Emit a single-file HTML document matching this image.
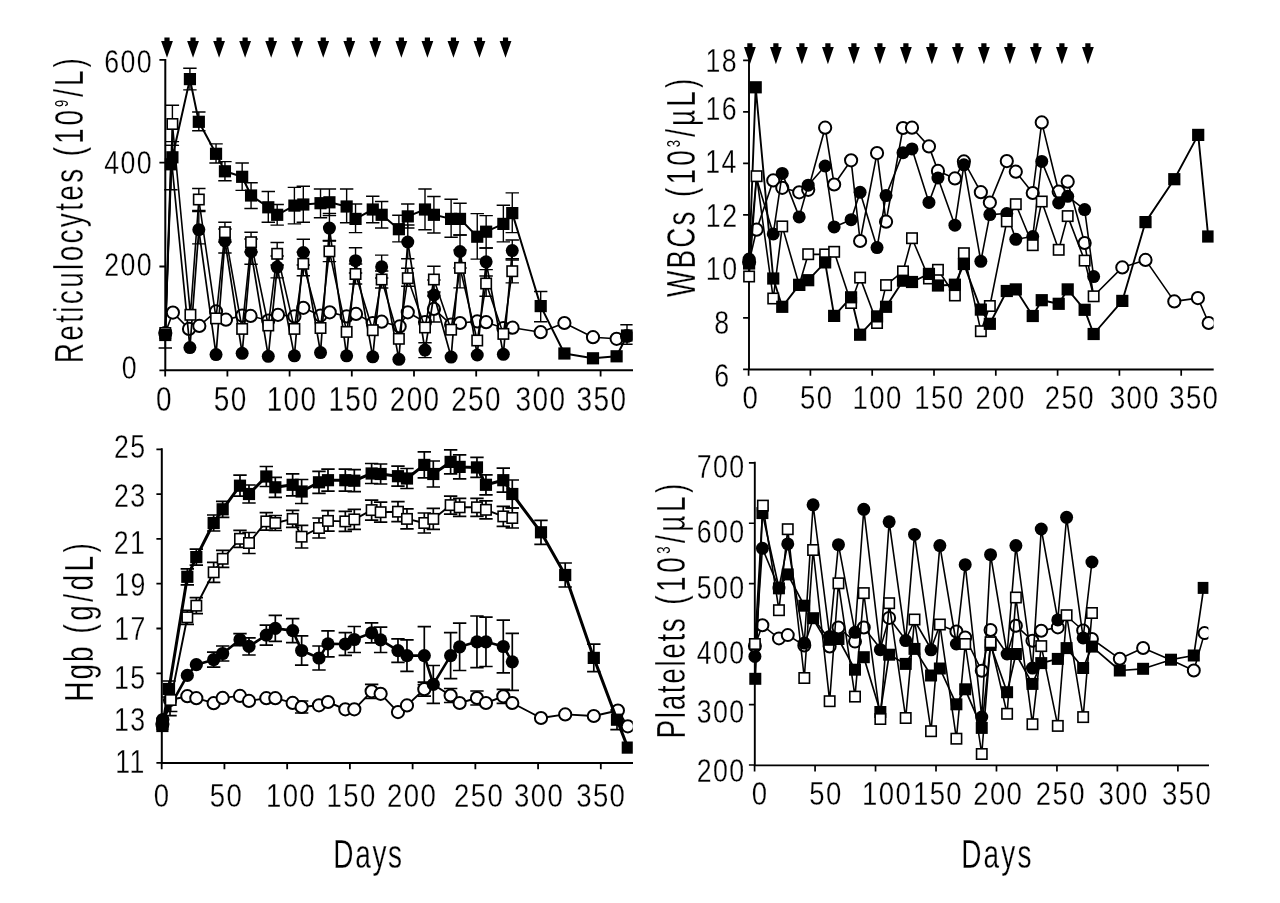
<!DOCTYPE html>
<html lang="en"><head><meta charset="utf-8"><title>Figure</title>
<style>html,body{margin:0;padding:0;background:#fff}svg{display:block}text{font-family:'Liberation Sans', Arial, sans-serif;fill:#000;stroke:#fff;stroke-width:.3px}</style></head><body>
<svg width="1280" height="903" viewBox="0 0 1280 903">
<rect width="1280" height="903" fill="#fff"/>
<defs><clipPath id="c1"><rect x="0" y="0" width="632.6" height="452"/></clipPath><clipPath id="c2"><rect x="640" y="0" width="573.6" height="452"/></clipPath><clipPath id="c3"><rect x="0" y="430" width="632.8" height="473"/></clipPath><clipPath id="c4"><rect x="640" y="430" width="568.4" height="473"/></clipPath></defs>
<g id="panel1">
<path d="M165.3 58.9L165.3 370.3L633 370.3" fill="none" stroke="#000" stroke-width="2" stroke-linejoin="miter"/>
<path d="M159.4 59.9H165.3M159.4 162.6H165.3M159.4 266.5H165.3M159.4 370.3H165.3M165.2 370.3V376.5M227.4 370.3V376.5M289.6 370.3V376.5M351.8 370.3V376.5M414 370.3V376.5M476.2 370.3V376.5M538.4 370.3V376.5M600.6 370.3V376.5" fill="none" stroke="#000" stroke-width="1.8"/>
<path d="M164.4 37.5h5.2v3.6h3.3L167 57.8L161.1 41.1h3.3zM190.44 37.5h5.2v3.6h3.3L193.04 57.8L187.14 41.1h3.3zM216.48 37.5h5.2v3.6h3.3L219.08 57.8L213.18 41.1h3.3zM242.52 37.5h5.2v3.6h3.3L245.12 57.8L239.22 41.1h3.3zM268.56 37.5h5.2v3.6h3.3L271.16 57.8L265.26 41.1h3.3zM294.6 37.5h5.2v3.6h3.3L297.2 57.8L291.3 41.1h3.3zM320.64 37.5h5.2v3.6h3.3L323.24 57.8L317.34 41.1h3.3zM346.68 37.5h5.2v3.6h3.3L349.28 57.8L343.38 41.1h3.3zM372.72 37.5h5.2v3.6h3.3L375.32 57.8L369.42 41.1h3.3zM398.76 37.5h5.2v3.6h3.3L401.36 57.8L395.46 41.1h3.3zM424.8 37.5h5.2v3.6h3.3L427.4 57.8L421.5 41.1h3.3zM450.84 37.5h5.2v3.6h3.3L453.44 57.8L447.54 41.1h3.3zM476.88 37.5h5.2v3.6h3.3L479.48 57.8L473.58 41.1h3.3zM502.92 37.5h5.2v3.6h3.3L505.52 57.8L499.62 41.1h3.3z" fill="#000"/>
<g clip-path="url(#c1)">
<path d="M433.9 308.9V296M427.2 296H440.6M433.9 308.9V322M427.2 322H440.6" fill="none" stroke="#000" stroke-width="1.4"/>
<path d="M172.4 124V105.3M165.7 105.3H179.1M172.4 124V145.4M165.7 145.4H179.1M198.82 199.5V188.5M192.12 188.5H205.52M198.82 199.5V210.5M192.12 210.5H205.52M224.94 232.2V222.3M218.24 222.3H231.64M224.94 232.2V242M218.24 242H231.64M251.06 242.2V232.2M244.36 232.2H257.76M251.06 242.2V252M244.36 252H257.76M277.18 253.8V242.5M270.48 242.5H283.88M277.18 253.8V265M270.48 265H283.88M303.3 263.8V252M296.6 252H310M303.3 263.8V275.7M296.6 275.7H310M329.42 251.3V241M322.72 241H336.12M329.42 251.3V261.6M322.72 261.6H336.12M355.54 274V264M348.84 264H362.24M355.54 274V284M348.84 284H362.24M381.66 279.5V271M374.96 271H388.36M381.66 279.5V288M374.96 288H388.36M407.78 278.2V268.3M401.08 268.3H414.48M407.78 278.2V286.2M401.08 286.2H414.48M433.9 279.5V266.3M427.2 266.3H440.6M433.9 279.5V292M427.2 292H440.6M460.02 267.9V250M453.32 250H466.72M460.02 267.9V287.9M453.32 287.9H466.72M486.14 283.5V269.6M479.44 269.6H492.84M486.14 283.5V296.2M479.44 296.2H492.84M512.26 271.2V260M505.56 260H518.96M512.26 271.2V282.9M505.56 282.9H518.96" fill="none" stroke="#000" stroke-width="1.4"/>
<path d="M171.6 161V145.4M164.9 145.4H178.3M198.82 229.7V211.5M192.12 211.5H205.52M198.82 229.7V243.9M192.12 243.9H205.52M224.94 241V229M218.24 229H231.64M224.94 241V253M218.24 253H231.64M251.06 251.7V239M244.36 239H257.76M251.06 251.7V264.3M244.36 264.3H257.76M277.18 267.1V256M270.48 256H283.88M277.18 267.1V277.9M270.48 277.9H283.88M303.3 252.5V239.2M296.6 239.2H310M303.3 252.5V265M296.6 265H310M329.42 228.1V213.5M322.72 213.5H336.12M329.42 228.1V240.5M322.72 240.5H336.12M355.54 260.7V247.7M348.84 247.7H362.24M355.54 260.7V273M348.84 273H362.24M381.66 266.8V255.1M374.96 255.1H388.36M381.66 266.8V278M374.96 278H388.36M407.78 242V225M401.08 225H414.48M407.78 242V258.8M401.08 258.8H414.48M425 350.1V342.7M418.3 342.7H431.7M425 350.1V357.6M418.3 357.6H431.7M433.9 295V280M427.2 280H440.6M433.9 295V310M427.2 310H440.6M460.02 251.5V235M453.32 235H466.72M460.02 251.5V268M453.32 268H466.72M486.14 261.8V248M479.44 248H492.84M486.14 261.8V276M479.44 276H492.84M512.26 250.6V240M505.56 240H518.96M512.26 250.6V258.8M505.56 258.8H518.96" fill="none" stroke="#000" stroke-width="1.4"/>
<path d="M165.3 335V348M158.6 348H172M170.9 164.3V189.8M164.2 189.8H177.6M172.4 157.3V141.6M165.7 141.6H179.1M189.92 79.1V68.3M183.22 68.3H196.62M189.92 79.1V89.9M183.22 89.9H196.62M198.82 121.8V112M192.12 112H205.52M198.82 121.8V130.8M192.12 130.8H205.52M216.04 153.8V143.9M209.34 143.9H222.74M216.04 153.8V163M209.34 163H222.74M224.94 171.3V161.6M218.24 161.6H231.64M224.94 171.3V180.7M218.24 180.7H231.64M242.16 176.8V163M235.46 163H248.86M242.16 176.8V190.4M235.46 190.4H248.86M251.06 195.5V182.7M244.36 182.7H257.76M251.06 195.5V208.5M244.36 208.5H257.76M268.28 207.3V191.5M261.58 191.5H274.98M268.28 207.3V222.3M261.58 222.3H274.98M277.18 214.8V204.5M270.48 204.5H283.88M277.18 214.8V225.1M270.48 225.1H283.88M294.4 205.6V187.4M287.7 187.4H301.1M294.4 205.6V223.9M287.7 223.9H301.1M303.3 204.5V186.2M296.6 186.2H310M303.3 204.5V222.3M296.6 222.3H310M320.52 203.2V189M313.82 189H327.22M320.52 203.2V217.8M313.82 217.8H327.22M329.42 202.3V189M322.72 189H336.12M329.42 202.3V215.6M322.72 215.6H336.12M346.64 206.5V189M339.94 189H353.34M346.64 206.5V222.8M339.94 222.8H353.34M355.54 218.9V204M348.84 204H362.24M355.54 218.9V232.6M348.84 232.6H362.24M372.76 209.5V196.2M366.06 196.2H379.46M372.76 209.5V222.8M366.06 222.8H379.46M381.66 214.8V201.5M374.96 201.5H388.36M381.66 214.8V228M374.96 228H388.36M398.88 229.2V215.3M392.18 215.3H405.58M398.88 229.2V241.9M392.18 241.9H405.58M407.78 216.4V204M401.08 204H414.48M407.78 216.4V228M401.08 228H414.48M425 209.5V189M418.3 189H431.7M425 209.5V229.7M418.3 229.7H431.7M433.9 214.8V196.5M427.2 196.5H440.6M433.9 214.8V233M427.2 233H440.6M451.12 218.9V199.3M444.42 199.3H457.82M451.12 218.9V237.2M444.42 237.2H457.82M460.02 218.9V203.2M453.32 203.2H466.72M460.02 218.9V235M453.32 235H466.72M477.24 236.7V213.6M470.54 213.6H483.94M477.24 236.7V259.1M470.54 259.1H483.94M486.14 231.7V215.6M479.44 215.6H492.84M486.14 231.7V248M479.44 248H492.84M503.36 223.9V205.3M496.66 205.3H510.06M503.36 223.9V241.9M496.66 241.9H510.06M512.26 213.1V192.9M505.56 192.9H518.96M512.26 213.1V232.6M505.56 232.6H518.96M540.7 306.1V291.5M534 291.5H547.4M540.7 306.1V321.7M534 321.7H547.4M627 335.5V324.7M620.3 324.7H633.7M627 335.5V344.3M620.3 344.3H633.7" fill="none" stroke="#000" stroke-width="1.4"/>
<path d="M165.3 333L172.9 312.6L189.02 328.9L199.32 325.9L216.04 311.4L225.94 319.7L242.16 315.6L250.56 315.9L268.28 320.5L277.98 314.8L294.4 316.4L303.3 307.8L320.52 315.6L329.72 312.3L346.64 316.4L356.04 313.9L372.76 323L381.66 321.7L399.68 326.4L407.78 312.3L425 322L433.9 308.9L451.12 324.7L460.02 323L477.24 321.4L486.14 322.2L503.36 328L512.56 327.7L540.7 332.2L564.4 323L593 337.2L616.6 338.8L627 336" fill="none" stroke="#000" stroke-width="1.6" stroke-linejoin="round"/>
<g fill="#fff" stroke="#000" stroke-width="2"><circle cx="165.3" cy="333" r="6.1"/><circle cx="172.9" cy="312.6" r="6.1"/><circle cx="189.02" cy="328.9" r="6.1"/><circle cx="199.32" cy="325.9" r="6.1"/><circle cx="216.04" cy="311.4" r="6.1"/><circle cx="225.94" cy="319.7" r="6.1"/><circle cx="242.16" cy="315.6" r="6.1"/><circle cx="250.56" cy="315.9" r="6.1"/><circle cx="268.28" cy="320.5" r="6.1"/><circle cx="277.98" cy="314.8" r="6.1"/><circle cx="294.4" cy="316.4" r="6.1"/><circle cx="303.3" cy="307.8" r="6.1"/><circle cx="320.52" cy="315.6" r="6.1"/><circle cx="329.72" cy="312.3" r="6.1"/><circle cx="346.64" cy="316.4" r="6.1"/><circle cx="356.04" cy="313.9" r="6.1"/><circle cx="372.76" cy="323" r="6.1"/><circle cx="381.66" cy="321.7" r="6.1"/><circle cx="399.68" cy="326.4" r="6.1"/><circle cx="407.78" cy="312.3" r="6.1"/><circle cx="425" cy="322" r="6.1"/><circle cx="433.9" cy="308.9" r="6.1"/><circle cx="451.12" cy="324.7" r="6.1"/><circle cx="460.02" cy="323" r="6.1"/><circle cx="477.24" cy="321.4" r="6.1"/><circle cx="486.14" cy="322.2" r="6.1"/><circle cx="503.36" cy="328" r="6.1"/><circle cx="512.56" cy="327.7" r="6.1"/><circle cx="540.7" cy="332.2" r="6.1"/><circle cx="564.4" cy="323" r="6.1"/><circle cx="593" cy="337.2" r="6.1"/><circle cx="616.6" cy="338.8" r="6.1"/><circle cx="627" cy="336" r="6.1"/></g>
<path d="M165.3 333L172.4 124L190.42 314.8L198.82 199.5L216.04 318.4L224.94 232.2L242.16 328.9L251.06 242.2L268.28 325.5L277.18 253.8L294.4 328.9L303.3 263.8L320.52 328L329.42 251.3L346.64 331.9L355.54 274L372.76 330.2L381.66 279.5L398.88 338.8L407.78 278.2L425 327.5L433.9 279.5L451.12 329.7L460.02 267.9L477.24 340.5L486.14 283.5L503.36 333.9L512.26 271.2" fill="none" stroke="#000" stroke-width="1.6" stroke-linejoin="round"/>
<path d="M165.3 333L171.6 161L189.92 347.6L198.82 229.7L216.04 354.6L224.94 241L242.16 353.3L251.06 251.7L268.28 356.3L277.18 267.1L294.4 355.8L303.3 252.5L320.52 352.6L329.42 228.1L346.64 355.8L355.54 260.7L372.76 356.8L381.66 266.8L398.88 359.3L407.78 242L425 350.1L433.9 295L451.12 357.1L460.02 251.5L477.24 355L486.14 261.8L503.36 354.3L512.26 250.6" fill="none" stroke="#000" stroke-width="1.7" stroke-linejoin="round"/>
<path d="M165.3 335L170.9 164.3L172.4 157.3L189.92 79.1L198.82 121.8L216.04 153.8L224.94 171.3L242.16 176.8L251.06 195.5L268.28 207.3L277.18 214.8L294.4 205.6L303.3 204.5L320.52 203.2L329.42 202.3L346.64 206.5L355.54 218.9L372.76 209.5L381.66 214.8L398.88 229.2L407.78 216.4L425 209.5L433.9 214.8L451.12 218.9L460.02 218.9L477.24 236.7L486.14 231.7L503.36 223.9L512.26 213.1L540.7 306.1L564.4 353.5L593 358.3L616.6 356.3L627 335.5" fill="none" stroke="#000" stroke-width="2" stroke-linejoin="round"/>
<g fill="#000" stroke="none" stroke-width="0"><circle cx="165.3" cy="333" r="6.5"/><circle cx="189.92" cy="347.6" r="6.5"/><circle cx="198.82" cy="229.7" r="6.5"/><circle cx="216.04" cy="354.6" r="6.5"/><circle cx="224.94" cy="241" r="6.5"/><circle cx="242.16" cy="353.3" r="6.5"/><circle cx="251.06" cy="251.7" r="6.5"/><circle cx="268.28" cy="356.3" r="6.5"/><circle cx="277.18" cy="267.1" r="6.5"/><circle cx="294.4" cy="355.8" r="6.5"/><circle cx="303.3" cy="252.5" r="6.5"/><circle cx="320.52" cy="352.6" r="6.5"/><circle cx="329.42" cy="228.1" r="6.5"/><circle cx="346.64" cy="355.8" r="6.5"/><circle cx="355.54" cy="260.7" r="6.5"/><circle cx="372.76" cy="356.8" r="6.5"/><circle cx="381.66" cy="266.8" r="6.5"/><circle cx="398.88" cy="359.3" r="6.5"/><circle cx="407.78" cy="242" r="6.5"/><circle cx="425" cy="350.1" r="6.5"/><circle cx="433.9" cy="295" r="6.5"/><circle cx="451.12" cy="357.1" r="6.5"/><circle cx="460.02" cy="251.5" r="6.5"/><circle cx="477.24" cy="355" r="6.5"/><circle cx="486.14" cy="261.8" r="6.5"/><circle cx="503.36" cy="354.3" r="6.5"/><circle cx="512.26" cy="250.6" r="6.5"/></g>
<g fill="#fff" stroke="#000" stroke-width="1.6"><rect x="160.1" y="327.8" width="10.4" height="10.4"/><rect x="167.2" y="118.8" width="10.4" height="10.4"/><rect x="185.22" y="309.6" width="10.4" height="10.4"/><rect x="193.62" y="194.3" width="10.4" height="10.4"/><rect x="210.84" y="313.2" width="10.4" height="10.4"/><rect x="219.74" y="227" width="10.4" height="10.4"/><rect x="236.96" y="323.7" width="10.4" height="10.4"/><rect x="245.86" y="237" width="10.4" height="10.4"/><rect x="263.08" y="320.3" width="10.4" height="10.4"/><rect x="271.98" y="248.6" width="10.4" height="10.4"/><rect x="289.2" y="323.7" width="10.4" height="10.4"/><rect x="298.1" y="258.6" width="10.4" height="10.4"/><rect x="315.32" y="322.8" width="10.4" height="10.4"/><rect x="324.22" y="246.1" width="10.4" height="10.4"/><rect x="341.44" y="326.7" width="10.4" height="10.4"/><rect x="350.34" y="268.8" width="10.4" height="10.4"/><rect x="367.56" y="325" width="10.4" height="10.4"/><rect x="376.46" y="274.3" width="10.4" height="10.4"/><rect x="393.68" y="333.6" width="10.4" height="10.4"/><rect x="402.58" y="273" width="10.4" height="10.4"/><rect x="419.8" y="322.3" width="10.4" height="10.4"/><rect x="428.7" y="274.3" width="10.4" height="10.4"/><rect x="445.92" y="324.5" width="10.4" height="10.4"/><rect x="454.82" y="262.7" width="10.4" height="10.4"/><rect x="472.04" y="335.3" width="10.4" height="10.4"/><rect x="480.94" y="278.3" width="10.4" height="10.4"/><rect x="498.16" y="328.7" width="10.4" height="10.4"/><rect x="507.06" y="266" width="10.4" height="10.4"/></g>
<g fill="#000" stroke="none" stroke-width="0"><rect x="159.2" y="328.9" width="12.2" height="12.2"/><rect x="164.8" y="158.2" width="12.2" height="12.2"/><rect x="166.3" y="151.2" width="12.2" height="12.2"/><rect x="183.82" y="73" width="12.2" height="12.2"/><rect x="192.72" y="115.7" width="12.2" height="12.2"/><rect x="209.94" y="147.7" width="12.2" height="12.2"/><rect x="218.84" y="165.2" width="12.2" height="12.2"/><rect x="236.06" y="170.7" width="12.2" height="12.2"/><rect x="244.96" y="189.4" width="12.2" height="12.2"/><rect x="262.18" y="201.2" width="12.2" height="12.2"/><rect x="271.08" y="208.7" width="12.2" height="12.2"/><rect x="288.3" y="199.5" width="12.2" height="12.2"/><rect x="297.2" y="198.4" width="12.2" height="12.2"/><rect x="314.42" y="197.1" width="12.2" height="12.2"/><rect x="323.32" y="196.2" width="12.2" height="12.2"/><rect x="340.54" y="200.4" width="12.2" height="12.2"/><rect x="349.44" y="212.8" width="12.2" height="12.2"/><rect x="366.66" y="203.4" width="12.2" height="12.2"/><rect x="375.56" y="208.7" width="12.2" height="12.2"/><rect x="392.78" y="223.1" width="12.2" height="12.2"/><rect x="401.68" y="210.3" width="12.2" height="12.2"/><rect x="418.9" y="203.4" width="12.2" height="12.2"/><rect x="427.8" y="208.7" width="12.2" height="12.2"/><rect x="445.02" y="212.8" width="12.2" height="12.2"/><rect x="453.92" y="212.8" width="12.2" height="12.2"/><rect x="471.14" y="230.6" width="12.2" height="12.2"/><rect x="480.04" y="225.6" width="12.2" height="12.2"/><rect x="497.26" y="217.8" width="12.2" height="12.2"/><rect x="506.16" y="207" width="12.2" height="12.2"/><rect x="534.6" y="300" width="12.2" height="12.2"/><rect x="558.3" y="347.4" width="12.2" height="12.2"/><rect x="586.9" y="352.2" width="12.2" height="12.2"/><rect x="610.5" y="350.2" width="12.2" height="12.2"/><rect x="620.9" y="329.4" width="12.2" height="12.2"/></g>
</g>
<text transform="translate(104.23,73.4) scale(0.81,1)" letter-spacing="1.73"><tspan font-size="33">600</tspan></text>
<text transform="translate(104.23,174.4) scale(0.81,1)" letter-spacing="1.73"><tspan font-size="33">400</tspan></text>
<text transform="translate(104.23,276.1) scale(0.81,1)" letter-spacing="1.73"><tspan font-size="33">200</tspan></text>
<text transform="translate(121.8,378.5) scale(0.81,1)" letter-spacing="1.73"><tspan font-size="33">0</tspan></text>
<text transform="translate(155.93,410.7) scale(0.81,1)" letter-spacing="1.73"><tspan font-size="34.5">0</tspan></text>
<text transform="translate(213.82,410.7) scale(0.81,1)" letter-spacing="1.73"><tspan font-size="34.5">50</tspan></text>
<text transform="translate(266.68,410.7) scale(0.81,1)" letter-spacing="1.73"><tspan font-size="34.5">100</tspan></text>
<text transform="translate(328.38,410.7) scale(0.81,1)" letter-spacing="1.73"><tspan font-size="34.5">150</tspan></text>
<text transform="translate(389.73,410.7) scale(0.81,1)" letter-spacing="1.73"><tspan font-size="34.5">200</tspan></text>
<text transform="translate(451.13,410.7) scale(0.81,1)" letter-spacing="1.73"><tspan font-size="34.5">250</tspan></text>
<text transform="translate(515.57,410.7) scale(0.81,1)" letter-spacing="1.73"><tspan font-size="34.5">300</tspan></text>
<text transform="translate(576.57,410.7) scale(0.81,1)" letter-spacing="1.73"><tspan font-size="34.5">350</tspan></text>
<text transform="translate(83.1,363.24) rotate(-90) scale(0.7,1)" letter-spacing="3.33"><tspan font-size="40">Reticulocytes</tspan></text>
<text transform="translate(83.1,156.28) rotate(-90) scale(0.7,1)" letter-spacing="4.21"><tspan font-size="40">(10</tspan><tspan font-size="18.5" dy="-15" stroke-width="0">9</tspan><tspan font-size="40" dy="15">/L)</tspan></text>
</g>
<g id="panel2">
<path d="M749 59.45L749 369.5L1213.7 369.5" fill="none" stroke="#000" stroke-width="1.9" stroke-linejoin="miter"/>
<path d="M743.1 60.4H749M743.1 111.9H749M743.1 163.4H749M743.1 214.9H749M743.1 266.4H749M743.1 317.9H749M743.1 369.4H749M748.6 369.5V375.7M810.4 369.5V375.7M872.2 369.5V375.7M934 369.5V375.7M995.8 369.5V375.7M1057.6 369.5V375.7M1119.4 369.5V375.7M1181.2 369.5V375.7" fill="none" stroke="#000" stroke-width="1.7"/>
<path d="M747.3 43.3h5.2v3.6h3.3L749.9 64.3L744 46.9h3.3zM773.3 43.3h5.2v3.6h3.3L775.9 64.3L770 46.9h3.3zM799.3 43.3h5.2v3.6h3.3L801.9 64.3L796 46.9h3.3zM825.3 43.3h5.2v3.6h3.3L827.9 64.3L822 46.9h3.3zM851.3 43.3h5.2v3.6h3.3L853.9 64.3L848 46.9h3.3zM877.3 43.3h5.2v3.6h3.3L879.9 64.3L874 46.9h3.3zM903.3 43.3h5.2v3.6h3.3L905.9 64.3L900 46.9h3.3zM929.3 43.3h5.2v3.6h3.3L931.9 64.3L926 46.9h3.3zM955.3 43.3h5.2v3.6h3.3L957.9 64.3L952 46.9h3.3zM981.3 43.3h5.2v3.6h3.3L983.9 64.3L978 46.9h3.3zM1007.3 43.3h5.2v3.6h3.3L1009.9 64.3L1004 46.9h3.3zM1033.3 43.3h5.2v3.6h3.3L1035.9 64.3L1030 46.9h3.3zM1059.3 43.3h5.2v3.6h3.3L1061.9 64.3L1056 46.9h3.3zM1085.3 43.3h5.2v3.6h3.3L1087.9 64.3L1082 46.9h3.3z" fill="#000"/>
<g clip-path="url(#c2)">
<path d="M749.1 262L756.6 229.7L773.25 180.4L782.25 187.8L799.2 192.3L808.2 189.8L825.15 127.7L834.15 184.5L851.1 160.3L860.1 241L877.05 153.1L886.05 221.7L903 128L912 127.7L928.95 146.4L937.95 170.9L954.9 178.4L963.9 161.4L980.85 192.2L989.85 202.6L1006.8 161.1L1015.8 171.7L1032.75 193L1041.75 122.4L1058.7 191.7L1067.7 181.7L1084.65 243L1093.65 296L1122.3 267.4L1145.5 259.9L1174.3 301.4L1197.9 298.1L1208.7 323" fill="none" stroke="#000" stroke-width="1.6" stroke-linejoin="round"/>
<g fill="#fff" stroke="#000" stroke-width="2"><circle cx="749.1" cy="262" r="6.1"/><circle cx="756.6" cy="229.7" r="6.1"/><circle cx="773.25" cy="180.4" r="6.1"/><circle cx="782.25" cy="187.8" r="6.1"/><circle cx="799.2" cy="192.3" r="6.1"/><circle cx="808.2" cy="189.8" r="6.1"/><circle cx="825.15" cy="127.7" r="6.1"/><circle cx="834.15" cy="184.5" r="6.1"/><circle cx="851.1" cy="160.3" r="6.1"/><circle cx="860.1" cy="241" r="6.1"/><circle cx="877.05" cy="153.1" r="6.1"/><circle cx="886.05" cy="221.7" r="6.1"/><circle cx="903" cy="128" r="6.1"/><circle cx="912" cy="127.7" r="6.1"/><circle cx="928.95" cy="146.4" r="6.1"/><circle cx="937.95" cy="170.9" r="6.1"/><circle cx="954.9" cy="178.4" r="6.1"/><circle cx="963.9" cy="161.4" r="6.1"/><circle cx="980.85" cy="192.2" r="6.1"/><circle cx="989.85" cy="202.6" r="6.1"/><circle cx="1006.8" cy="161.1" r="6.1"/><circle cx="1015.8" cy="171.7" r="6.1"/><circle cx="1032.75" cy="193" r="6.1"/><circle cx="1041.75" cy="122.4" r="6.1"/><circle cx="1058.7" cy="191.7" r="6.1"/><circle cx="1067.7" cy="181.7" r="6.1"/><circle cx="1084.65" cy="243" r="6.1"/><circle cx="1122.3" cy="267.4" r="6.1"/><circle cx="1145.5" cy="259.9" r="6.1"/><circle cx="1174.3" cy="301.4" r="6.1"/><circle cx="1197.9" cy="298.1" r="6.1"/><circle cx="1208.7" cy="323" r="6.1"/></g>
<path d="M749.1 276.5L756.6 176.2L773.25 298.5L782.25 226.4L799.2 285L808.2 254.2L825.15 254.4L834.15 251.8L851.1 303L860.1 277.6L877.05 323L886.05 285.1L903 271.4L912 238.2L928.95 278.5L937.95 269.8L954.9 295.5L963.9 253.2L980.85 331.2L989.85 306L1006.8 221.4L1015.8 204.2L1032.75 245.2L1041.75 201.5L1058.7 249.8L1067.7 216.1L1084.65 260.6L1093.65 296.3" fill="none" stroke="#000" stroke-width="1.6" stroke-linejoin="round"/>
<path d="M749.1 259L756.4 178L773.25 233.9L782.25 173.4L799.2 216.9L808.2 185.2L825.15 166L834.15 226.9L851.1 219.7L860.1 192.3L877.05 247.6L886.05 195.6L903 152.7L912 148.9L928.95 202.4L937.95 178L954.9 225.2L963.9 164.8L980.85 261.3L989.85 214.6L1006.8 213.5L1015.8 239.3L1032.75 236.5L1041.75 161.4L1058.7 203L1067.7 196.3L1084.65 209.6L1093.65 276.6" fill="none" stroke="#000" stroke-width="1.6" stroke-linejoin="round"/>
<path d="M749.1 263.5L755.7 87.3L773.25 278.5L782.25 306.8L799.2 284.8L808.2 280.2L825.15 262.4L834.15 315.9L851.1 297.3L860.1 334.7L877.05 316.4L886.05 306.8L903 280.7L912 282L928.95 273.9L937.95 285.5L954.9 284.7L963.9 264L980.85 309.6L989.85 323.8L1006.8 291L1015.8 289.4L1032.75 316L1041.75 300.2L1058.7 303.8L1067.7 289.4L1084.65 309.8L1093.65 334L1122.3 300.9L1145.5 222.1L1174.3 179.2L1198.2 134.9L1208.2 236.5" fill="none" stroke="#000" stroke-width="1.9" stroke-linejoin="round"/>
<g fill="#000" stroke="none" stroke-width="0"><circle cx="749.1" cy="259" r="6.5"/><circle cx="773.25" cy="233.9" r="6.5"/><circle cx="782.25" cy="173.4" r="6.5"/><circle cx="799.2" cy="216.9" r="6.5"/><circle cx="808.2" cy="185.2" r="6.5"/><circle cx="825.15" cy="166" r="6.5"/><circle cx="834.15" cy="226.9" r="6.5"/><circle cx="851.1" cy="219.7" r="6.5"/><circle cx="860.1" cy="192.3" r="6.5"/><circle cx="877.05" cy="247.6" r="6.5"/><circle cx="886.05" cy="195.6" r="6.5"/><circle cx="903" cy="152.7" r="6.5"/><circle cx="912" cy="148.9" r="6.5"/><circle cx="928.95" cy="202.4" r="6.5"/><circle cx="937.95" cy="178" r="6.5"/><circle cx="954.9" cy="225.2" r="6.5"/><circle cx="963.9" cy="164.8" r="6.5"/><circle cx="980.85" cy="261.3" r="6.5"/><circle cx="989.85" cy="214.6" r="6.5"/><circle cx="1006.8" cy="213.5" r="6.5"/><circle cx="1015.8" cy="239.3" r="6.5"/><circle cx="1032.75" cy="236.5" r="6.5"/><circle cx="1041.75" cy="161.4" r="6.5"/><circle cx="1058.7" cy="203" r="6.5"/><circle cx="1067.7" cy="196.3" r="6.5"/><circle cx="1084.65" cy="209.6" r="6.5"/><circle cx="1093.65" cy="276.6" r="6.5"/></g>
<g fill="#fff" stroke="#000" stroke-width="1.6"><rect x="743.9" y="271.3" width="10.4" height="10.4"/><rect x="751.4" y="171" width="10.4" height="10.4"/><rect x="768.05" y="293.3" width="10.4" height="10.4"/><rect x="777.05" y="221.2" width="10.4" height="10.4"/><rect x="794" y="279.8" width="10.4" height="10.4"/><rect x="803" y="249" width="10.4" height="10.4"/><rect x="819.95" y="249.2" width="10.4" height="10.4"/><rect x="828.95" y="246.6" width="10.4" height="10.4"/><rect x="845.9" y="297.8" width="10.4" height="10.4"/><rect x="854.9" y="272.4" width="10.4" height="10.4"/><rect x="871.85" y="317.8" width="10.4" height="10.4"/><rect x="880.85" y="279.9" width="10.4" height="10.4"/><rect x="897.8" y="266.2" width="10.4" height="10.4"/><rect x="906.8" y="233" width="10.4" height="10.4"/><rect x="923.75" y="273.3" width="10.4" height="10.4"/><rect x="932.75" y="264.6" width="10.4" height="10.4"/><rect x="949.7" y="290.3" width="10.4" height="10.4"/><rect x="958.7" y="248" width="10.4" height="10.4"/><rect x="975.65" y="326" width="10.4" height="10.4"/><rect x="984.65" y="300.8" width="10.4" height="10.4"/><rect x="1001.6" y="216.2" width="10.4" height="10.4"/><rect x="1010.6" y="199" width="10.4" height="10.4"/><rect x="1027.55" y="240" width="10.4" height="10.4"/><rect x="1036.55" y="196.3" width="10.4" height="10.4"/><rect x="1053.5" y="244.6" width="10.4" height="10.4"/><rect x="1062.5" y="210.9" width="10.4" height="10.4"/><rect x="1079.45" y="255.4" width="10.4" height="10.4"/><rect x="1088.45" y="291.1" width="10.4" height="10.4"/></g>
<g fill="#000" stroke="none" stroke-width="0"><rect x="743" y="257.4" width="12.2" height="12.2"/><rect x="749.6" y="81.2" width="12.2" height="12.2"/><rect x="767.15" y="272.4" width="12.2" height="12.2"/><rect x="776.15" y="300.7" width="12.2" height="12.2"/><rect x="793.1" y="278.7" width="12.2" height="12.2"/><rect x="802.1" y="274.1" width="12.2" height="12.2"/><rect x="819.05" y="256.3" width="12.2" height="12.2"/><rect x="828.05" y="309.8" width="12.2" height="12.2"/><rect x="845" y="291.2" width="12.2" height="12.2"/><rect x="854" y="328.6" width="12.2" height="12.2"/><rect x="870.95" y="310.3" width="12.2" height="12.2"/><rect x="879.95" y="300.7" width="12.2" height="12.2"/><rect x="896.9" y="274.6" width="12.2" height="12.2"/><rect x="905.9" y="275.9" width="12.2" height="12.2"/><rect x="922.85" y="267.8" width="12.2" height="12.2"/><rect x="931.85" y="279.4" width="12.2" height="12.2"/><rect x="948.8" y="278.6" width="12.2" height="12.2"/><rect x="957.8" y="257.9" width="12.2" height="12.2"/><rect x="974.75" y="303.5" width="12.2" height="12.2"/><rect x="983.75" y="317.7" width="12.2" height="12.2"/><rect x="1000.7" y="284.9" width="12.2" height="12.2"/><rect x="1009.7" y="283.3" width="12.2" height="12.2"/><rect x="1026.65" y="309.9" width="12.2" height="12.2"/><rect x="1035.65" y="294.1" width="12.2" height="12.2"/><rect x="1052.6" y="297.7" width="12.2" height="12.2"/><rect x="1061.6" y="283.3" width="12.2" height="12.2"/><rect x="1078.55" y="303.7" width="12.2" height="12.2"/><rect x="1087.55" y="327.9" width="12.2" height="12.2"/><rect x="1116.2" y="294.8" width="12.2" height="12.2"/><rect x="1139.4" y="216" width="12.2" height="12.2"/><rect x="1168.2" y="173.1" width="12.2" height="12.2"/><rect x="1192.1" y="128.8" width="12.2" height="12.2"/><rect x="1202.1" y="230.4" width="12.2" height="12.2"/></g>
</g>
<text transform="translate(705.6,71.5) scale(0.81,1)" letter-spacing="1.73"><tspan font-size="33">18</tspan></text>
<text transform="translate(705.6,119.6) scale(0.81,1)" letter-spacing="1.73"><tspan font-size="33">16</tspan></text>
<text transform="translate(705.33,173.1) scale(0.81,1)" letter-spacing="1.73"><tspan font-size="33">14</tspan></text>
<text transform="translate(705.87,227.4) scale(0.81,1)" letter-spacing="1.73"><tspan font-size="33">12</tspan></text>
<text transform="translate(705.87,279.9) scale(0.81,1)" letter-spacing="1.73"><tspan font-size="33">10</tspan></text>
<text transform="translate(714.23,334) scale(0.81,1)" letter-spacing="1.73"><tspan font-size="33">8</tspan></text>
<text transform="translate(714.23,387.2) scale(0.81,1)" letter-spacing="1.73"><tspan font-size="33">6</tspan></text>
<text transform="translate(742.49,409.3) scale(0.81,1)" letter-spacing="1.73"><tspan font-size="34">0</tspan></text>
<text transform="translate(799.95,409.3) scale(0.81,1)" letter-spacing="1.73"><tspan font-size="34">50</tspan></text>
<text transform="translate(852.62,409.3) scale(0.81,1)" letter-spacing="1.73"><tspan font-size="34">100</tspan></text>
<text transform="translate(914.32,409.3) scale(0.81,1)" letter-spacing="1.73"><tspan font-size="34">150</tspan></text>
<text transform="translate(975.57,409.3) scale(0.81,1)" letter-spacing="1.73"><tspan font-size="34">200</tspan></text>
<text transform="translate(1044.87,409.3) scale(0.81,1)" letter-spacing="1.73"><tspan font-size="34">250</tspan></text>
<text transform="translate(1109.9,409.3) scale(0.81,1)" letter-spacing="1.73"><tspan font-size="34">300</tspan></text>
<text transform="translate(1169.2,409.3) scale(0.81,1)" letter-spacing="1.73"><tspan font-size="34">350</tspan></text>
<text transform="translate(694.8,296.94) rotate(-90) scale(0.7,1)" letter-spacing="2.88"><tspan font-size="40">WBCs</tspan></text>
<text transform="translate(694.8,196.98) rotate(-90) scale(0.7,1)" letter-spacing="4.46"><tspan font-size="40">(10</tspan><tspan font-size="18.5" dy="-15" stroke-width="0">3</tspan><tspan font-size="40" dy="15">/µL)</tspan></text>
</g>
<g id="panel3">
<path d="M161.8 448.3L161.8 763L633 763" fill="none" stroke="#000" stroke-width="2" stroke-linejoin="miter"/>
<path d="M156.4 449.3H161.8M156.4 494.1H161.8M156.4 538.9H161.8M156.4 583.7H161.8M156.4 628.5H161.8M156.4 673.3H161.8M156.4 718.1H161.8M156.4 762.9H161.8M161.7 763V769.2M224.43 763V769.2M287.16 763V769.2M349.89 763V769.2M412.62 763V769.2M475.35 763V769.2M538.08 763V769.2M600.81 763V769.2" fill="none" stroke="#000" stroke-width="1.8"/>
<g clip-path="url(#c3)">
<path d="M170 700V715.6M163.3 715.6H176.7M301.65 707V701M294.95 701H308.35M301.65 707V713M294.95 713H308.35M371.64 691.3V684.3M364.94 684.3H378.34M371.64 691.3V698.3M364.94 698.3H378.34M424.3 689.2V682.2M417.6 682.2H431M424.3 689.2V696.2M417.6 696.2H431M450.63 695.5V688.5M443.93 688.5H457.33M450.63 695.5V702.5M443.93 702.5H457.33M476.96 698V691M470.26 691H483.66M476.96 698V705M470.26 705H483.66M503.29 696.3V689.3M496.59 689.3H509.99M503.29 696.3V703.3M496.59 703.3H509.99" fill="none" stroke="#000" stroke-width="1.7"/>
<path d="M170.7 700V711.5M164 711.5H177.4M187.33 617.3V610.3M180.63 610.3H194.03M187.33 617.3V624.3M180.63 624.3H194.03M196.33 605.7V597.7M189.63 597.7H203.03M196.33 605.7V613.7M189.63 613.7H203.03M213.66 572.3V562.3M206.96 562.3H220.36M213.66 572.3V582.3M206.96 582.3H220.36M222.66 558.8V550.3M215.96 550.3H229.36M222.66 558.8V567.3M215.96 567.3H229.36M239.99 538.8V530.3M233.29 530.3H246.69M239.99 538.8V547.3M233.29 547.3H246.69M248.99 543V532.5M242.29 532.5H255.69M248.99 543V553.5M242.29 553.5H255.69M266.32 521.4V512.7M259.62 512.7H273.02M266.32 521.4V530.1M259.62 530.1H273.02M275.32 523V515.5M268.62 515.5H282.02M275.32 523V530.5M268.62 530.5H282.02M292.65 518.9V510.4M285.95 510.4H299.35M292.65 518.9V527.4M285.95 527.4H299.35M301.65 536.7V525.4M294.95 525.4H308.35M301.65 536.7V548M294.95 548H308.35M318.98 528V518M312.28 518H325.68M318.98 528V538M312.28 538H325.68M327.98 520.9V510.6M321.28 510.6H334.68M327.98 520.9V531.2M321.28 531.2H334.68M345.31 521.4V511.4M338.61 511.4H352.01M345.31 521.4V531.4M338.61 531.4H352.01M354.31 519.4V509.4M347.61 509.4H361.01M354.31 519.4V529.4M347.61 529.4H361.01M371.64 510.1V500.1M364.94 500.1H378.34M371.64 510.1V520.1M364.94 520.1H378.34M380.64 512.2V502.2M373.94 502.2H387.34M380.64 512.2V522.2M373.94 522.2H387.34M397.97 511.7V501.7M391.27 501.7H404.67M397.97 511.7V521.7M391.27 521.7H404.67M406.97 518.9V508.9M400.27 508.9H413.67M406.97 518.9V528.9M400.27 528.9H413.67M424.3 523V513M417.6 513H431M424.3 523V533M417.6 533H431M433.3 518.9V508.4M426.6 508.4H440M433.3 518.9V529.4M426.6 529.4H440M450.63 505.1V496.1M443.93 496.1H457.33M450.63 505.1V514.1M443.93 514.1H457.33M459.63 507.3V498.3M452.93 498.3H466.33M459.63 507.3V516.3M452.93 516.3H466.33M476.96 507.3V498.3M470.26 498.3H483.66M476.96 507.3V516.3M470.26 516.3H483.66M485.96 509.8V500.8M479.26 500.8H492.66M485.96 509.8V518.8M479.26 518.8H492.66M503.29 516.4V506.4M496.59 506.4H509.99M503.29 516.4V526.4M496.59 526.4H509.99M512.29 518V508M505.59 508H518.99M512.29 518V528M505.59 528H518.99" fill="none" stroke="#000" stroke-width="1.7"/>
<path d="M213.66 659.7V652.2M206.96 652.2H220.36M213.66 659.7V667.2M206.96 667.2H220.36M222.66 653.5V646M215.96 646H229.36M222.66 653.5V661M215.96 661H229.36M239.99 639.7V633.7M233.29 633.7H246.69M239.99 639.7V645.7M233.29 645.7H246.69M248.99 646.4V637.8M242.29 637.8H255.69M248.99 646.4V655M242.29 655H255.69M266.32 635.1V625.1M259.62 625.1H273.02M266.32 635.1V645.1M259.62 645.1H273.02M275.32 628.4V615.4M268.62 615.4H282.02M275.32 628.4V641.4M268.62 641.4H282.02M292.65 630.6V618.6M285.95 618.6H299.35M292.65 630.6V642.6M285.95 642.6H299.35M301.65 650.5V635.9M294.95 635.9H308.35M301.65 650.5V665.1M294.95 665.1H308.35M318.98 658V646M312.28 646H325.68M318.98 658V670M312.28 670H325.68M327.98 643.9V630.9M321.28 630.9H334.68M327.98 643.9V656.9M321.28 656.9H334.68M345.31 644V632.6M338.61 632.6H352.01M345.31 644V655.4M338.61 655.4H352.01M354.31 639.5V626.5M347.61 626.5H361.01M354.31 639.5V652.5M347.61 652.5H361.01M371.64 632.9V622.9M364.94 622.9H378.34M371.64 632.9V642.9M364.94 642.9H378.34M380.64 639.8V627.1M373.94 627.1H387.34M380.64 639.8V652.5M373.94 652.5H387.34M397.97 650.6V638.8M391.27 638.8H404.67M397.97 650.6V662.4M391.27 662.4H404.67M406.97 655.6V639.8M400.27 639.8H413.67M406.97 655.6V671.4M400.27 671.4H413.67M424.3 655.6V626.6M417.6 626.6H431M424.3 655.6V684.6M417.6 684.6H431M433.3 684.4V665.5M426.6 665.5H440M433.3 684.4V703.3M426.6 703.3H440M450.63 655.6V632.6M443.93 632.6H457.33M450.63 655.6V678.6M443.93 678.6H457.33M459.63 646.8V623.1M452.93 623.1H466.33M459.63 646.8V670.5M452.93 670.5H466.33M476.96 641.8V616M470.26 616H483.66M476.96 641.8V667.6M470.26 667.6H483.66M485.96 641.8V617.1M479.26 617.1H492.66M485.96 641.8V666.5M479.26 666.5H492.66M503.29 646.5V620.2M496.59 620.2H509.99M503.29 646.5V672.8M496.59 672.8H509.99M512.29 661.8V633.3M505.59 633.3H518.99M512.29 661.8V690.3M505.59 690.3H518.99" fill="none" stroke="#000" stroke-width="1.7"/>
<path d="M169 689V681M162.3 681H175.7M169 689V697M162.3 697H175.7M187.33 576.8V568.8M180.63 568.8H194.03M187.33 576.8V584.8M180.63 584.8H194.03M196.33 557.1V549.1M189.63 549.1H203.03M196.33 557.1V565.1M189.63 565.1H203.03M213.66 523V515M206.96 515H220.36M213.66 523V531M206.96 531H220.36M222.66 509.3V501.3M215.96 501.3H229.36M222.66 509.3V517.3M215.96 517.3H229.36M239.99 485.7V475.2M233.29 475.2H246.69M239.99 485.7V496.2M233.29 496.2H246.69M248.99 494V485M242.29 485H255.69M248.99 494V503M242.29 503H255.69M266.32 476.5V466.5M259.62 466.5H273.02M266.32 476.5V486.5M259.62 486.5H273.02M275.32 487.3V477.3M268.62 477.3H282.02M275.32 487.3V497.3M268.62 497.3H282.02M292.65 484.8V473.8M285.95 473.8H299.35M292.65 484.8V495.8M285.95 495.8H299.35M301.65 491.5V479.5M294.95 479.5H308.35M301.65 491.5V503.5M294.95 503.5H308.35M318.98 482.3V471.3M312.28 471.3H325.68M318.98 482.3V493.3M312.28 493.3H325.68M327.98 480.2V469.2M321.28 469.2H334.68M327.98 480.2V491.2M321.28 491.2H334.68M345.31 480.2V469.2M338.61 469.2H352.01M345.31 480.2V491.2M338.61 491.2H352.01M354.31 480.7V469.7M347.61 469.7H361.01M354.31 480.7V491.7M347.61 491.7H361.01M371.64 473.5V463.5M364.94 463.5H378.34M371.64 473.5V483.5M364.94 483.5H378.34M380.64 474V464M373.94 464H387.34M380.64 474V484M373.94 484H387.34M397.97 476.2V466.2M391.27 466.2H404.67M397.97 476.2V486.2M391.27 486.2H404.67M406.97 478.5V468.5M400.27 468.5H413.67M406.97 478.5V488.5M400.27 488.5H413.67M424.3 464.9V451.9M417.6 451.9H431M424.3 464.9V477.9M417.6 477.9H431M433.3 474V461M426.6 461H440M433.3 474V487M426.6 487H440M450.63 461.9V449.9M443.93 449.9H457.33M450.63 461.9V473.9M443.93 473.9H457.33M459.63 466.9V454.9M452.93 454.9H466.33M459.63 466.9V478.9M452.93 478.9H466.33M476.96 467.4V457.4M470.26 457.4H483.66M476.96 467.4V477.4M470.26 477.4H483.66M485.96 484.8V474.8M479.26 474.8H492.66M485.96 484.8V494.8M479.26 494.8H492.66M503.29 480.2V468.2M496.59 468.2H509.99M503.29 480.2V492.2M496.59 492.2H509.99M512.29 494V480M505.59 480H518.99M512.29 494V508M505.59 508H518.99M541 532.3V520.3M534.3 520.3H547.7M541 532.3V544.3M534.3 544.3H547.7M565.2 575V563M558.5 563H571.9M565.2 575V587M558.5 587H571.9M593.8 657.9V644.2M587.1 644.2H600.5M593.8 657.9V671.6M587.1 671.6H600.5M617 719.7V710M610.3 710H623.7M617 719.7V729.6M610.3 729.6H623.7" fill="none" stroke="#000" stroke-width="1.7"/>
<path d="M162.4 724L170 700L187.33 696.2L196.33 698.2L213.66 703.2L222.66 697.9L239.99 695.9L248.99 700.9L266.32 698.2L275.32 698.2L292.65 702.9L301.65 707L318.98 705.3L327.98 702L345.31 709.3L354.31 709.3L371.64 691.3L380.64 693.8L397.97 712.1L406.97 705.4L424.3 689.2L433.3 684.6L450.63 695.5L459.63 703L476.96 698L485.96 703L503.29 696.3L512.29 703L541 718L565.2 714.4L593.8 716L617.9 710.5L627.8 726.3" fill="none" stroke="#000" stroke-width="1.9" stroke-linejoin="round"/>
<g fill="#fff" stroke="#000" stroke-width="2"><circle cx="162.4" cy="724" r="6.1"/><circle cx="170" cy="700" r="6.1"/><circle cx="187.33" cy="696.2" r="6.1"/><circle cx="196.33" cy="698.2" r="6.1"/><circle cx="213.66" cy="703.2" r="6.1"/><circle cx="222.66" cy="697.9" r="6.1"/><circle cx="239.99" cy="695.9" r="6.1"/><circle cx="248.99" cy="700.9" r="6.1"/><circle cx="266.32" cy="698.2" r="6.1"/><circle cx="275.32" cy="698.2" r="6.1"/><circle cx="292.65" cy="702.9" r="6.1"/><circle cx="301.65" cy="707" r="6.1"/><circle cx="318.98" cy="705.3" r="6.1"/><circle cx="327.98" cy="702" r="6.1"/><circle cx="345.31" cy="709.3" r="6.1"/><circle cx="354.31" cy="709.3" r="6.1"/><circle cx="371.64" cy="691.3" r="6.1"/><circle cx="380.64" cy="693.8" r="6.1"/><circle cx="397.97" cy="712.1" r="6.1"/><circle cx="406.97" cy="705.4" r="6.1"/><circle cx="424.3" cy="689.2" r="6.1"/><circle cx="450.63" cy="695.5" r="6.1"/><circle cx="459.63" cy="703" r="6.1"/><circle cx="476.96" cy="698" r="6.1"/><circle cx="485.96" cy="703" r="6.1"/><circle cx="503.29" cy="696.3" r="6.1"/><circle cx="512.29" cy="703" r="6.1"/><circle cx="541" cy="718" r="6.1"/><circle cx="565.2" cy="714.4" r="6.1"/><circle cx="593.8" cy="716" r="6.1"/><circle cx="617.9" cy="710.5" r="6.1"/><circle cx="627.8" cy="726.3" r="6.1"/></g>
<path d="M162.4 724L170.7 700L187.33 617.3L196.33 605.7L213.66 572.3L222.66 558.8L239.99 538.8L248.99 543L266.32 521.4L275.32 523L292.65 518.9L301.65 536.7L318.98 528L327.98 520.9L345.31 521.4L354.31 519.4L371.64 510.1L380.64 512.2L397.97 511.7L406.97 518.9L424.3 523L433.3 518.9L450.63 505.1L459.63 507.3L476.96 507.3L485.96 509.8L503.29 516.4L512.29 518" fill="none" stroke="#000" stroke-width="1.9" stroke-linejoin="round"/>
<path d="M162.8 719.5L187.33 675.4L196.33 664.7L213.66 659.7L222.66 653.5L239.99 639.7L248.99 646.4L266.32 635.1L275.32 628.4L292.65 630.6L301.65 650.5L318.98 658L327.98 643.9L345.31 644L354.31 639.5L371.64 632.9L380.64 639.8L397.97 650.6L406.97 655.6L424.3 655.6L433.3 684.4L450.63 655.6L459.63 646.8L476.96 641.8L485.96 641.8L503.29 646.5L512.29 661.8" fill="none" stroke="#000" stroke-width="2.6" stroke-linejoin="round"/>
<path d="M162.4 726L169 689L187.33 576.8L196.33 557.1L213.66 523L222.66 509.3L239.99 485.7L248.99 494L266.32 476.5L275.32 487.3L292.65 484.8L301.65 491.5L318.98 482.3L327.98 480.2L345.31 480.2L354.31 480.7L371.64 473.5L380.64 474L397.97 476.2L406.97 478.5L424.3 464.9L433.3 474L450.63 461.9L459.63 466.9L476.96 467.4L485.96 484.8L503.29 480.2L512.29 494L541 532.3L565.2 575L593.8 657.9L617 719.7L627.8 747.6" fill="none" stroke="#000" stroke-width="3" stroke-linejoin="round"/>
<g fill="#fff" stroke="#000" stroke-width="1.6"><rect x="157.2" y="718.8" width="10.4" height="10.4"/><rect x="165.5" y="694.8" width="10.4" height="10.4"/><rect x="182.13" y="612.1" width="10.4" height="10.4"/><rect x="191.13" y="600.5" width="10.4" height="10.4"/><rect x="208.46" y="567.1" width="10.4" height="10.4"/><rect x="217.46" y="553.6" width="10.4" height="10.4"/><rect x="234.79" y="533.6" width="10.4" height="10.4"/><rect x="243.79" y="537.8" width="10.4" height="10.4"/><rect x="261.12" y="516.2" width="10.4" height="10.4"/><rect x="270.12" y="517.8" width="10.4" height="10.4"/><rect x="287.45" y="513.7" width="10.4" height="10.4"/><rect x="296.45" y="531.5" width="10.4" height="10.4"/><rect x="313.78" y="522.8" width="10.4" height="10.4"/><rect x="322.78" y="515.7" width="10.4" height="10.4"/><rect x="340.11" y="516.2" width="10.4" height="10.4"/><rect x="349.11" y="514.2" width="10.4" height="10.4"/><rect x="366.44" y="504.9" width="10.4" height="10.4"/><rect x="375.44" y="507" width="10.4" height="10.4"/><rect x="392.77" y="506.5" width="10.4" height="10.4"/><rect x="401.77" y="513.7" width="10.4" height="10.4"/><rect x="419.1" y="517.8" width="10.4" height="10.4"/><rect x="428.1" y="513.7" width="10.4" height="10.4"/><rect x="445.43" y="499.9" width="10.4" height="10.4"/><rect x="454.43" y="502.1" width="10.4" height="10.4"/><rect x="471.76" y="502.1" width="10.4" height="10.4"/><rect x="480.76" y="504.6" width="10.4" height="10.4"/><rect x="498.09" y="511.2" width="10.4" height="10.4"/><rect x="507.09" y="512.8" width="10.4" height="10.4"/></g>
<g fill="#000" stroke="none" stroke-width="0"><circle cx="162.8" cy="719.5" r="6.6"/><circle cx="187.33" cy="675.4" r="6.6"/><circle cx="196.33" cy="664.7" r="6.6"/><circle cx="213.66" cy="659.7" r="6.6"/><circle cx="222.66" cy="653.5" r="6.6"/><circle cx="239.99" cy="639.7" r="6.6"/><circle cx="248.99" cy="646.4" r="6.6"/><circle cx="266.32" cy="635.1" r="6.6"/><circle cx="275.32" cy="628.4" r="6.6"/><circle cx="292.65" cy="630.6" r="6.6"/><circle cx="301.65" cy="650.5" r="6.6"/><circle cx="318.98" cy="658" r="6.6"/><circle cx="327.98" cy="643.9" r="6.6"/><circle cx="345.31" cy="644" r="6.6"/><circle cx="354.31" cy="639.5" r="6.6"/><circle cx="371.64" cy="632.9" r="6.6"/><circle cx="380.64" cy="639.8" r="6.6"/><circle cx="397.97" cy="650.6" r="6.6"/><circle cx="406.97" cy="655.6" r="6.6"/><circle cx="424.3" cy="655.6" r="6.6"/><circle cx="433.3" cy="684.4" r="6.6"/><circle cx="450.63" cy="655.6" r="6.6"/><circle cx="459.63" cy="646.8" r="6.6"/><circle cx="476.96" cy="641.8" r="6.6"/><circle cx="485.96" cy="641.8" r="6.6"/><circle cx="503.29" cy="646.5" r="6.6"/><circle cx="512.29" cy="661.8" r="6.6"/></g>
<g fill="#000" stroke="none" stroke-width="0"><rect x="156.3" y="719.9" width="12.2" height="12.2"/><rect x="162.9" y="682.9" width="12.2" height="12.2"/><rect x="181.23" y="570.7" width="12.2" height="12.2"/><rect x="190.23" y="551" width="12.2" height="12.2"/><rect x="207.56" y="516.9" width="12.2" height="12.2"/><rect x="216.56" y="503.2" width="12.2" height="12.2"/><rect x="233.89" y="479.6" width="12.2" height="12.2"/><rect x="242.89" y="487.9" width="12.2" height="12.2"/><rect x="260.22" y="470.4" width="12.2" height="12.2"/><rect x="269.22" y="481.2" width="12.2" height="12.2"/><rect x="286.55" y="478.7" width="12.2" height="12.2"/><rect x="295.55" y="485.4" width="12.2" height="12.2"/><rect x="312.88" y="476.2" width="12.2" height="12.2"/><rect x="321.88" y="474.1" width="12.2" height="12.2"/><rect x="339.21" y="474.1" width="12.2" height="12.2"/><rect x="348.21" y="474.6" width="12.2" height="12.2"/><rect x="365.54" y="467.4" width="12.2" height="12.2"/><rect x="374.54" y="467.9" width="12.2" height="12.2"/><rect x="391.87" y="470.1" width="12.2" height="12.2"/><rect x="400.87" y="472.4" width="12.2" height="12.2"/><rect x="418.2" y="458.8" width="12.2" height="12.2"/><rect x="427.2" y="467.9" width="12.2" height="12.2"/><rect x="444.53" y="455.8" width="12.2" height="12.2"/><rect x="453.53" y="460.8" width="12.2" height="12.2"/><rect x="470.86" y="461.3" width="12.2" height="12.2"/><rect x="479.86" y="478.7" width="12.2" height="12.2"/><rect x="497.19" y="474.1" width="12.2" height="12.2"/><rect x="506.19" y="487.9" width="12.2" height="12.2"/><rect x="534.9" y="526.2" width="12.2" height="12.2"/><rect x="559.1" y="568.9" width="12.2" height="12.2"/><rect x="587.7" y="651.8" width="12.2" height="12.2"/><rect x="610.9" y="713.6" width="12.2" height="12.2"/><rect x="621.7" y="741.5" width="12.2" height="12.2"/></g>
</g>
<text transform="translate(114,458.4) scale(0.81,1)" letter-spacing="1.73"><tspan font-size="33">25</tspan></text>
<text transform="translate(114,506.6) scale(0.81,1)" letter-spacing="1.73"><tspan font-size="33">23</tspan></text>
<text transform="translate(113.73,554.4) scale(0.81,1)" letter-spacing="1.73"><tspan font-size="33">21</tspan></text>
<text transform="translate(114.13,596.4) scale(0.81,1)" letter-spacing="1.73"><tspan font-size="33">19</tspan></text>
<text transform="translate(114.27,640.4) scale(0.81,1)" letter-spacing="1.73"><tspan font-size="33">17</tspan></text>
<text transform="translate(114,688.5) scale(0.81,1)" letter-spacing="1.73"><tspan font-size="33">15</tspan></text>
<text transform="translate(114,731.3) scale(0.81,1)" letter-spacing="1.73"><tspan font-size="33">13</tspan></text>
<text transform="translate(115.24,772.8) scale(0.81,1)" letter-spacing="1.73"><tspan font-size="33">11</tspan></text>
<text transform="translate(153.79,806.6) scale(0.81,1)" letter-spacing="1.73"><tspan font-size="34">0</tspan></text>
<text transform="translate(209.85,806.6) scale(0.81,1)" letter-spacing="1.73"><tspan font-size="34">50</tspan></text>
<text transform="translate(265.92,806.6) scale(0.81,1)" letter-spacing="1.73"><tspan font-size="34">100</tspan></text>
<text transform="translate(326.52,806.6) scale(0.81,1)" letter-spacing="1.73"><tspan font-size="34">150</tspan></text>
<text transform="translate(387.07,806.6) scale(0.81,1)" letter-spacing="1.73"><tspan font-size="34">200</tspan></text>
<text transform="translate(453.97,806.6) scale(0.81,1)" letter-spacing="1.73"><tspan font-size="34">250</tspan></text>
<text transform="translate(514.1,806.6) scale(0.81,1)" letter-spacing="1.73"><tspan font-size="34">300</tspan></text>
<text transform="translate(576.2,806.6) scale(0.81,1)" letter-spacing="1.73"><tspan font-size="34">350</tspan></text>
<text transform="translate(92.5,701.64) rotate(-90) scale(0.7,1)" letter-spacing="2.7"><tspan font-size="40">Hgb</tspan></text>
<text transform="translate(92.5,633.38) rotate(-90) scale(0.7,1)" letter-spacing="4.85"><tspan font-size="40">(g/dL)</tspan></text>
<text transform="translate(333.36,868.2) scale(0.7,1)" letter-spacing="2.37"><tspan font-size="40">Days</tspan></text>
</g>
<g id="panel4">
<path d="M754.8 461.85L754.8 765.4L1209 765.4" fill="none" stroke="#000" stroke-width="1.9" stroke-linejoin="miter"/>
<path d="M748.9 462.8H754.8M748.9 523.24H754.8M748.9 583.68H754.8M748.9 644.12H754.8M748.9 704.56H754.8M748.9 765H754.8M754.6 765.4V771.6M815.07 765.4V771.6M875.54 765.4V771.6M936.01 765.4V771.6M996.48 765.4V771.6M1056.95 765.4V771.6M1117.42 765.4V771.6M1177.89 765.4V771.6" fill="none" stroke="#000" stroke-width="1.7"/>
<g clip-path="url(#c4)">
<path d="M754.9 646L762.4 625.3L778.95 638.4L787.75 635.1L804.3 645.5L813.1 619L829.65 646.5L838.45 627.5L855 641.6L863.8 627.5L880.35 648.5L889.15 617.9L905.7 640L914.5 620.5L931.05 649L939.85 625L956.4 631.5L965.2 637.5L981.75 670.8L990.55 630L1007.1 654L1015.9 625.7L1032.45 640.7L1041.25 630.7L1057.8 627.4L1066.6 616L1083.15 630.5L1091.95 639L1119.8 658.8L1143.1 648L1171 660L1193.8 670.5L1204.6 633.1" fill="none" stroke="#000" stroke-width="1.6" stroke-linejoin="round"/>
<g fill="#fff" stroke="#000" stroke-width="2"><circle cx="754.9" cy="646" r="6"/><circle cx="762.4" cy="625.3" r="6"/><circle cx="778.95" cy="638.4" r="6"/><circle cx="787.75" cy="635.1" r="6"/><circle cx="804.3" cy="645.5" r="6"/><circle cx="829.65" cy="646.5" r="6"/><circle cx="838.45" cy="627.5" r="6"/><circle cx="855" cy="641.6" r="6"/><circle cx="863.8" cy="627.5" r="6"/><circle cx="889.15" cy="617.9" r="6"/><circle cx="956.4" cy="631.5" r="6"/><circle cx="965.2" cy="637.5" r="6"/><circle cx="981.75" cy="670.8" r="6"/><circle cx="990.55" cy="630" r="6"/><circle cx="1015.9" cy="625.7" r="6"/><circle cx="1032.45" cy="640.7" r="6"/><circle cx="1041.25" cy="630.7" r="6"/><circle cx="1057.8" cy="627.4" r="6"/><circle cx="1083.15" cy="630.5" r="6"/><circle cx="1091.95" cy="639" r="6"/><circle cx="1119.8" cy="658.8" r="6"/><circle cx="1143.1" cy="648" r="6"/><circle cx="1193.8" cy="670.5" r="6"/><circle cx="1204.6" cy="633.1" r="6"/></g>
<path d="M754.9 644L762.9 505.6L778.95 610.2L787.75 529.2L804.3 678L813.1 550L829.65 701.2L838.45 583.3L855 696.6L863.8 593.1L880.35 719L889.15 603.2L905.7 718L914.5 619.5L931.05 731.2L939.85 624.5L956.4 738.7L965.2 644L981.75 754L990.55 642.3L1007.1 713.8L1015.9 597.5L1032.45 724.2L1041.25 646.1L1057.8 725.9L1066.6 615.2L1083.15 717.1L1091.95 613" fill="none" stroke="#000" stroke-width="1.6" stroke-linejoin="round"/>
<path d="M754.9 656.4L762.4 548.3L778.95 588L787.75 543.9L804.3 643.1L813.1 504.8L829.65 636.4L838.45 544.7L855 632.3L863.8 509.3L880.35 649.7L889.15 521.8L905.7 640.6L914.5 534.4L931.05 649.8L939.85 545.6L956.4 644L965.2 564.7L981.75 717.1L990.55 554.7L1007.1 654L1015.9 545.6L1032.45 668.1L1041.25 529L1057.8 619.9L1066.6 517.3L1083.15 637.9L1091.95 562" fill="none" stroke="#000" stroke-width="1.6" stroke-linejoin="round"/>
<path d="M755.3 678.8L762.4 513.1L778.95 588.3L787.75 574.4L804.3 605.7L813.1 618.2L829.65 639.8L838.45 639L855 669.7L863.8 657.2L880.35 712L889.15 654.7L905.7 663.9L914.5 648.9L931.05 675.5L939.85 668.5L956.4 704.3L965.2 689.3L981.75 727.9L990.55 645L1007.1 692.2L1015.9 654L1032.45 683.9L1041.25 663.1L1057.8 658.9L1066.6 648.1L1083.15 668L1091.95 646.6L1119.8 670.5L1143.1 668.8L1171 659.7L1193.8 655.5L1203.7 587.9" fill="none" stroke="#000" stroke-width="1.7" stroke-linejoin="round"/>
<g fill="#000" stroke="none" stroke-width="0"><circle cx="754.9" cy="656.4" r="6.5"/><circle cx="762.4" cy="548.3" r="6.5"/><circle cx="778.95" cy="588" r="6.5"/><circle cx="787.75" cy="543.9" r="6.5"/><circle cx="804.3" cy="643.1" r="6.5"/><circle cx="813.1" cy="504.8" r="6.5"/><circle cx="829.65" cy="636.4" r="6.5"/><circle cx="838.45" cy="544.7" r="6.5"/><circle cx="855" cy="632.3" r="6.5"/><circle cx="863.8" cy="509.3" r="6.5"/><circle cx="880.35" cy="649.7" r="6.5"/><circle cx="889.15" cy="521.8" r="6.5"/><circle cx="905.7" cy="640.6" r="6.5"/><circle cx="914.5" cy="534.4" r="6.5"/><circle cx="931.05" cy="649.8" r="6.5"/><circle cx="939.85" cy="545.6" r="6.5"/><circle cx="956.4" cy="644" r="6.5"/><circle cx="965.2" cy="564.7" r="6.5"/><circle cx="981.75" cy="717.1" r="6.5"/><circle cx="990.55" cy="554.7" r="6.5"/><circle cx="1007.1" cy="654" r="6.5"/><circle cx="1015.9" cy="545.6" r="6.5"/><circle cx="1032.45" cy="668.1" r="6.5"/><circle cx="1041.25" cy="529" r="6.5"/><circle cx="1057.8" cy="619.9" r="6.5"/><circle cx="1066.6" cy="517.3" r="6.5"/><circle cx="1083.15" cy="637.9" r="6.5"/><circle cx="1091.95" cy="562" r="6.5"/></g>
<g fill="#000" stroke="none" stroke-width="0"><rect x="749.3" y="672.8" width="12" height="12"/><rect x="756.4" y="507.1" width="12" height="12"/><rect x="772.95" y="582.3" width="12" height="12"/><rect x="781.75" y="568.4" width="12" height="12"/><rect x="798.3" y="599.7" width="12" height="12"/><rect x="807.1" y="612.2" width="12" height="12"/><rect x="823.65" y="633.8" width="12" height="12"/><rect x="832.45" y="633" width="12" height="12"/><rect x="849" y="663.7" width="12" height="12"/><rect x="857.8" y="651.2" width="12" height="12"/><rect x="874.35" y="706" width="12" height="12"/><rect x="883.15" y="648.7" width="12" height="12"/><rect x="899.7" y="657.9" width="12" height="12"/><rect x="908.5" y="642.9" width="12" height="12"/><rect x="925.05" y="669.5" width="12" height="12"/><rect x="933.85" y="662.5" width="12" height="12"/><rect x="950.4" y="698.3" width="12" height="12"/><rect x="959.2" y="683.3" width="12" height="12"/><rect x="975.75" y="721.9" width="12" height="12"/><rect x="984.55" y="639" width="12" height="12"/><rect x="1001.1" y="686.2" width="12" height="12"/><rect x="1009.9" y="648" width="12" height="12"/><rect x="1026.45" y="677.9" width="12" height="12"/><rect x="1035.25" y="657.1" width="12" height="12"/><rect x="1051.8" y="652.9" width="12" height="12"/><rect x="1060.6" y="642.1" width="12" height="12"/><rect x="1077.15" y="662" width="12" height="12"/><rect x="1085.95" y="640.6" width="12" height="12"/><rect x="1113.8" y="664.5" width="12" height="12"/><rect x="1137.1" y="662.8" width="12" height="12"/><rect x="1165" y="653.7" width="12" height="12"/><rect x="1187.8" y="649.5" width="12" height="12"/><rect x="1197.7" y="581.9" width="12" height="12"/></g>
<g fill="#fff" stroke="#000" stroke-width="1.6"><rect x="749.7" y="638.8" width="10.4" height="10.4"/><rect x="757.7" y="500.4" width="10.4" height="10.4"/><rect x="773.75" y="605" width="10.4" height="10.4"/><rect x="782.55" y="524" width="10.4" height="10.4"/><rect x="799.1" y="672.8" width="10.4" height="10.4"/><rect x="807.9" y="544.8" width="10.4" height="10.4"/><rect x="824.45" y="696" width="10.4" height="10.4"/><rect x="833.25" y="578.1" width="10.4" height="10.4"/><rect x="849.8" y="691.4" width="10.4" height="10.4"/><rect x="858.6" y="587.9" width="10.4" height="10.4"/><rect x="875.15" y="713.8" width="10.4" height="10.4"/><rect x="883.95" y="598" width="10.4" height="10.4"/><rect x="900.5" y="712.8" width="10.4" height="10.4"/><rect x="909.3" y="614.3" width="10.4" height="10.4"/><rect x="925.85" y="726" width="10.4" height="10.4"/><rect x="934.65" y="619.3" width="10.4" height="10.4"/><rect x="951.2" y="733.5" width="10.4" height="10.4"/><rect x="960" y="638.8" width="10.4" height="10.4"/><rect x="976.55" y="748.8" width="10.4" height="10.4"/><rect x="985.35" y="637.1" width="10.4" height="10.4"/><rect x="1001.9" y="708.6" width="10.4" height="10.4"/><rect x="1010.7" y="592.3" width="10.4" height="10.4"/><rect x="1027.25" y="719" width="10.4" height="10.4"/><rect x="1036.05" y="640.9" width="10.4" height="10.4"/><rect x="1052.6" y="720.7" width="10.4" height="10.4"/><rect x="1061.4" y="610" width="10.4" height="10.4"/><rect x="1077.95" y="711.9" width="10.4" height="10.4"/><rect x="1086.75" y="607.8" width="10.4" height="10.4"/></g>
</g>
<text transform="translate(696.63,478.1) scale(0.81,1)" letter-spacing="1.73"><tspan font-size="33">700</tspan></text>
<text transform="translate(696.63,542.8) scale(0.81,1)" letter-spacing="1.73"><tspan font-size="33">600</tspan></text>
<text transform="translate(696.63,598.6) scale(0.81,1)" letter-spacing="1.73"><tspan font-size="33">500</tspan></text>
<text transform="translate(696.63,664.1) scale(0.81,1)" letter-spacing="1.73"><tspan font-size="33">400</tspan></text>
<text transform="translate(696.63,722.8) scale(0.81,1)" letter-spacing="1.73"><tspan font-size="33">300</tspan></text>
<text transform="translate(696.63,781.5) scale(0.81,1)" letter-spacing="1.73"><tspan font-size="33">200</tspan></text>
<text transform="translate(751.79,805.3) scale(0.81,1)" letter-spacing="1.73"><tspan font-size="34">0</tspan></text>
<text transform="translate(809.25,805.3) scale(0.81,1)" letter-spacing="1.73"><tspan font-size="34">50</tspan></text>
<text transform="translate(862.02,805.3) scale(0.81,1)" letter-spacing="1.73"><tspan font-size="34">100</tspan></text>
<text transform="translate(912.92,805.3) scale(0.81,1)" letter-spacing="1.73"><tspan font-size="34">150</tspan></text>
<text transform="translate(973.17,805.3) scale(0.81,1)" letter-spacing="1.73"><tspan font-size="34">200</tspan></text>
<text transform="translate(1035.87,805.3) scale(0.81,1)" letter-spacing="1.73"><tspan font-size="34">250</tspan></text>
<text transform="translate(1098.5,805.3) scale(0.81,1)" letter-spacing="1.73"><tspan font-size="34">300</tspan></text>
<text transform="translate(1162,805.3) scale(0.81,1)" letter-spacing="1.73"><tspan font-size="34">350</tspan></text>
<text transform="translate(685.4,738.44) rotate(-90) scale(0.7,1)" letter-spacing="2.31"><tspan font-size="40">Platelets</tspan></text>
<text transform="translate(685.4,604.78) rotate(-90) scale(0.7,1)" letter-spacing="5.03"><tspan font-size="40">(10</tspan><tspan font-size="18.5" dy="-15" stroke-width="0">3</tspan><tspan font-size="40" dy="15">/µL)</tspan></text>
<text transform="translate(961.16,868.1) scale(0.7,1)" letter-spacing="3.09"><tspan font-size="40">Days</tspan></text>
</g>
</svg></body></html>
